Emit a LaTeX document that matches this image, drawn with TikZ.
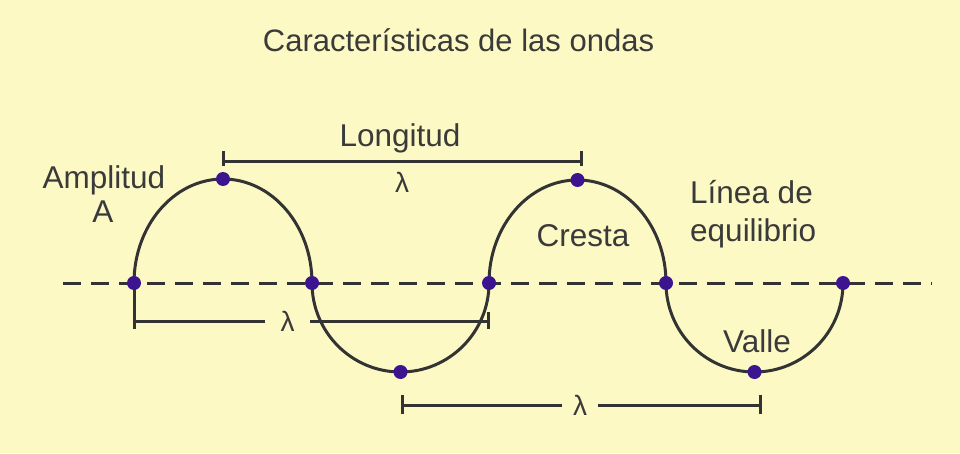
\documentclass[tikz,border=0pt]{standalone}
\usepackage{fontspec}
\setmainfont{Liberation Sans}
\definecolor{bg}{HTML}{FCF9C4}
\definecolor{ink}{HTML}{333333}
\definecolor{txt}{HTML}{3A3A3A}
\definecolor{dotc}{HTML}{3C1490}
\begin{document}
\begin{tikzpicture}[x=1pt,y=1pt,
  lbl/.style={text=txt, font=\fontsize{31.5}{36}\selectfont, inner sep=0pt},
  ttl/.style={text=txt, font=\fontsize{31}{36}\selectfont, inner sep=0pt},
  lam/.style={text=txt, font=\fontsize{28}{34}\selectfont, inner sep=0pt},
  wavedot/.style={circle, fill=dotc, minimum size=14pt, inner sep=0pt},
  wave/.style={draw=ink, line width=3pt},
  eqline/.style={draw=ink, line width=3pt, dash pattern=on 18pt off 10pt},
  bracket/.style={draw=ink, line width=3pt}]
\fill[bg] (0,0) rectangle (960,453);
\useasboundingbox (0,0) rectangle (960,453);

% equilibrium line
\coordinate (eqL) at (63,170);
\coordinate (eqR) at (932,170);
\draw[eqline] (eqL) -- (eqR);

% wave
\coordinate (z1) at (134,170);
\draw[wave] (z1) arc[start angle=180, end angle=0, x radius=89pt, y radius=104pt]
  arc[start angle=180, end angle=360, x radius=88.5pt, y radius=89pt]
  arc[start angle=180, end angle=0, x radius=88.5pt, y radius=103pt]
  arc[start angle=180, end angle=360, x radius=88.5pt, y radius=89pt];

% top bracket
\coordinate (tL) at (223,291);
\coordinate (tR) at (581,291);
\coordinate (tLa) at (223,302);
\coordinate (tLb) at (223,287);
\coordinate (tRa) at (581,302);
\coordinate (tRb) at (581,287);
\draw[bracket] (tL) -- (tR);
\draw[bracket] (tLa) -- (tLb);
\draw[bracket] (tRa) -- (tRb);

% middle bracket
\node[lam, minimum width=45pt, minimum height=20pt] (lamM) at (287.5,132) {λ};
\coordinate (mL) at (134,132);
\coordinate (mR) at (488,132);
\coordinate (mLb) at (134,124);
\coordinate (mRa) at (488,141);
\coordinate (mRb) at (488,124);
\draw[bracket] (z1) -- (mLb);
\draw[bracket] (mL) -- (lamM.west);
\draw[bracket] (lamM.east) -- (mR);
\draw[bracket] (mRa) -- (mRb);

% bottom bracket
\node[lam, minimum width=36pt, minimum height=20pt] (lamB) at (580,48) {λ};
\coordinate (bL) at (402,48);
\coordinate (bR) at (760,48);
\coordinate (bLa) at (402,58);
\coordinate (bLb) at (402,39);
\coordinate (bRa) at (760,58);
\coordinate (bRb) at (760,39);
\draw[bracket] (bL) -- (lamB.west);
\draw[bracket] (lamB.east) -- (bR);
\draw[bracket] (bLa) -- (bLb);
\draw[bracket] (bRa) -- (bRb);

% dots
\node[wavedot] (d1) at (134,170) {};
\node[wavedot] (d2) at (312,170) {};
\node[wavedot] (d3) at (489,170) {};
\node[wavedot] (d4) at (666,170) {};
\node[wavedot] (d5) at (843,170) {};
\node[wavedot] (p1) at (223,274) {};
\node[wavedot] (p2) at (577.5,273) {};
\node[wavedot] (v1) at (400.5,81) {};
\node[wavedot] (v2) at (754.5,81) {};

% texts
\node[ttl, anchor=base] (title) at (458.5,401) {Características de las ondas};
\node[lbl, anchor=base] (longitud) at (400,306) {Longitud};
\node[lam] (lamT) at (402,270.5) {λ};
\node[lbl, anchor=base] (amplitud) at (104,265) {Amplitud};
\node[lbl, anchor=base] (ampA) at (103,231) {A};
\node[lbl, anchor=base] (cresta) at (583,207) {Cresta};
\node[lbl, anchor=base west] (linea) at (690,250) {Línea de};
\node[lbl, anchor=base west] (equil) at (690,212) {equilibrio};
\node[lbl, anchor=base] (valle) at (757,101) {Valle};
\end{tikzpicture}
\end{document}
